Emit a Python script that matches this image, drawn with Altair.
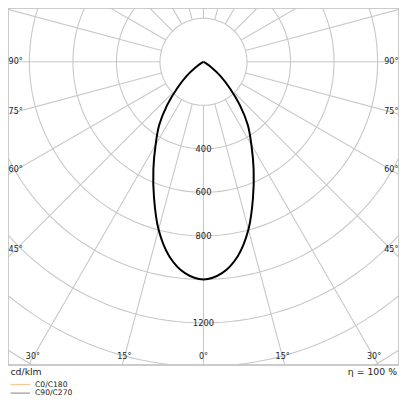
import altair as alt
import numpy as np
import pandas as pd

# ---- data (cd/klm, angle from nadir, symmetric) ----
ANGLES = [0, 5, 10, 15, 20, 25, 30, 35, 40, 45, 50, 55, 60, 65, 70, 75, 80, 85, 90]
INTENSITY = [1000, 975, 907, 798, 665, 545, 440, 355, 260, 170, 102, 45, 10, 0, 0, 0, 0, 0, 0]

RING_RADII = [200, 400, 600, 800, 1000, 1200, 1400, 1600, 1800]
RING_LABELS = [400, 600, 800, 1200]
SPOKE_ANGLES = list(range(0, 360, 15))
SIDE_LABEL_ANGLES = [90, 75, 60, 45]
BOTTOM_LABEL_ANGLES = [-30, -15, 0, 15, 30]
UNIT_TEXT = "cd/klm"
EFF_TEXT = "η = 100 %"
LEGEND_NAMES = ["C0/C180", "C90/C270"]
LEGEND_COLORS = ["#f6c894", "#999999"]

# ---- layout ----
W, H = 391, 357
K = 0.2176                 # px per cd
CY = 53.8                  # centre distance from top of plot, px
XMAX = (W / 2) / K
YTOP = CY / K
YBOT = -(H - CY) / K
FONT = "DejaVu Sans"
GRID = "#c8c8c8"

xs = alt.Scale(domain=[-XMAX, XMAX], nice=False, zero=False)
ys = alt.Scale(domain=[YBOT, YTOP], nice=False, zero=False)

# rings
ring_rows = []
for r in RING_RADII:
    for i, a in enumerate(np.arange(0, 361, 2)):
        t = np.radians(a)
        ring_rows.append({"ring": r, "o": i, "x": r * np.sin(t), "y": -r * np.cos(t)})
rings_df = pd.DataFrame(ring_rows)

# spokes
spoke_rows = []
for a in SPOKE_ANGLES:
    t = np.radians(a)
    spoke_rows.append({"x": 200 * np.sin(t), "y": -200 * np.cos(t),
                       "x2": 2200 * np.sin(t), "y2": -2200 * np.cos(t)})
spokes_df = pd.DataFrame(spoke_rows)

# curve
curve_rows = []
seq = [(-a, v) for a, v in zip(ANGLES[::-1], INTENSITY[::-1])] + \
      [(a, v) for a, v in zip(ANGLES[1:], INTENSITY[1:])]
for i, (a, v) in enumerate(seq):
    t = np.radians(a)
    curve_rows.append({"o": i, "x": v * np.sin(t), "y": -v * np.cos(t)})
curve_df = pd.DataFrame(curve_rows)

# ring labels
rl_df = pd.DataFrame({"x": [0] * len(RING_LABELS), "y": [-r for r in RING_LABELS],
                      "t": [str(r) for r in RING_LABELS]})

# angle labels
inset = 7.7 / K
lab_rows = []
xl = XMAX - inset
for a in SIDE_LABEL_ANGLES:
    t = np.radians(a)
    r = xl / np.sin(t)
    for s in (-1, 1):
        lab_rows.append({"x": s * xl, "y": -r * np.cos(t), "t": f"{a}°"})
yl = -YBOT - inset
for a in BOTTOM_LABEL_ANGLES:
    t = np.radians(a)
    lab_rows.append({"x": yl * np.tan(t), "y": -yl, "t": f"{abs(a)}°"})
al_df = pd.DataFrame(lab_rows)

rings = alt.Chart(rings_df).mark_line(color=GRID, strokeWidth=1.1, clip=True).encode(
    x=alt.X("x:Q", scale=xs, axis=None), y=alt.Y("y:Q", scale=ys, axis=None),
    detail="ring:N", order="o:Q")

spokes = alt.Chart(spokes_df).mark_rule(color=GRID, strokeWidth=1.1, clip=True).encode(
    x=alt.X("x:Q", scale=xs, axis=None), y=alt.Y("y:Q", scale=ys, axis=None),
    x2="x2:Q", y2="y2:Q")

curve = alt.Chart(curve_df).mark_line(color="#000000", strokeWidth=2, clip=True,
                                      interpolate="catmull-rom").encode(
    x=alt.X("x:Q", scale=xs, axis=None), y=alt.Y("y:Q", scale=ys, axis=None),
    order="o:Q")

ring_labels = alt.Chart(rl_df).mark_text(font=FONT, fontSize=8.4, color="#222222",
                                          baseline="middle", align="center").encode(
    x=alt.X("x:Q", scale=xs, axis=None), y=alt.Y("y:Q", scale=ys, axis=None), text="t:N")

angle_labels = alt.Chart(al_df).mark_text(font=FONT, fontSize=8, color="#222222",
                                           baseline="middle", align="center").encode(
    x=alt.X("x:Q", scale=xs, axis=None), y=alt.Y("y:Q", scale=ys, axis=None), text="t:N")

unit_df = pd.DataFrame({"t": [UNIT_TEXT]})
unit = alt.Chart(unit_df).mark_text(font=FONT, fontSize=9.3, color="#222222",
                                     align="left", baseline="middle").encode(
    x=alt.value(2.5), y=alt.value(H + 7), text="t:N")

eff_df = pd.DataFrame({"t": [EFF_TEXT]})
eff = alt.Chart(eff_df).mark_text(font=FONT, fontSize=9.3, color="#222222",
                                   align="right", baseline="middle").encode(
    x=alt.value(389), y=alt.value(H + 7), text="t:N")

leg_layers = []
for i, (name, col) in enumerate(zip(LEGEND_NAMES, LEGEND_COLORS)):
    yy = H + 19.5 + i * 8.6
    ldf = pd.DataFrame({"t": [name]})
    leg_layers.append(alt.Chart(ldf).mark_rule(color=col, strokeWidth=1.2).encode(
        x=alt.value(2.5), x2=alt.value(22), y=alt.value(yy)))
    leg_layers.append(alt.Chart(ldf).mark_text(font=FONT, fontSize=7.6, color="#222222",
                                               align="left", baseline="middle").encode(
        x=alt.value(27), y=alt.value(yy), text="t:N"))

chart = alt.layer(rings, spokes, curve, ring_labels, angle_labels, unit, eff, *leg_layers).properties(
    width=W, height=H, autosize="none",
    padding={"left": 0, "top": 0, "right": 0, "bottom": 34}
).configure_view(stroke="#bbbbbb", strokeWidth=1.5)

chart.save("out.html", embed_options={"renderer": "svg", "actions": False})
